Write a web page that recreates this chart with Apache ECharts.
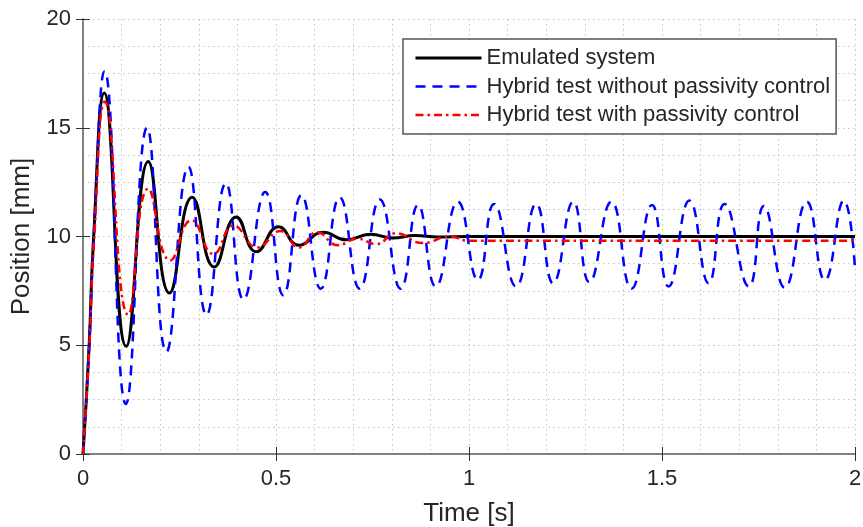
<!DOCTYPE html>
<html>
<head>
<meta charset="utf-8">
<script src="https://cdn.jsdelivr.net/npm/echarts/dist/echarts.min.js"></script>
<style>
  html, body { margin: 0; padding: 0; background: #fff; }
  #chart { width: 863px; height: 527px; }
</style>
</head>
<body>
<div id="chart"></div>
<script>
// values: time [s] and position [mm]
const emuT = [0, 0.016, 0.027, 0.055, 0.112, 0.169, 0.224, 0.283, 0.340, 0.397, 0.449, 0.507, 0.559, 0.623, 0.681, 0.745, 0.802, 0.86, 0.92, 1.0, 1.2, 1.6, 2.0];
const emuY = [0, 5.0, 9.8, 16.6, 4.95, 13.45, 7.4, 11.8, 8.6, 10.9, 9.3, 10.45, 9.6, 10.2, 9.85, 10.1, 9.93, 10.05, 9.98, 10.0, 10.0, 10.0, 10.0];

const noPcT = [0, 0.016, 0.028, 0.056, 0.111, 0.166, 0.216, 0.273, 0.320, 0.37, 0.416, 0.472, 0.519, 0.566, 0.616, 0.665, 0.717,
  0.769, 0.823, 0.868, 0.914, 0.971, 1.023, 1.065, 1.122, 1.174, 1.218, 1.27, 1.312, 1.369, 1.421, 1.474, 1.517,
  1.571, 1.621, 1.662, 1.725, 1.764, 1.818, 1.875, 1.922, 1.971, 2.0];
const noPcY = [0, 5.0, 10.0, 17.6, 2.3, 15.0, 4.7, 13.2, 6.4, 12.45, 7.1, 12.05, 7.3, 11.9, 7.6, 11.8, 7.6,
  11.7, 7.6, 11.45, 7.7, 11.6, 8.0, 11.5, 7.7, 11.5, 7.85, 11.6, 7.9, 11.6, 7.6, 11.45, 7.7,
  11.65, 7.85, 11.5, 7.7, 11.4, 7.65, 11.6, 8.0, 11.65, 8.55];

const pcT = [0, 0.016, 0.028, 0.057, 0.117, 0.169, 0.226, 0.281, 0.338, 0.39, 0.452, 0.511, 0.56, 0.607, 0.66, 0.71, 0.76, 0.81, 0.88, 0.95, 1.0, 1.2, 2.0];
const pcY = [0, 4.8, 9.6, 16.2, 6.4, 12.2, 8.9, 10.75, 9.2, 10.5, 9.5, 10.25, 9.5, 10.2, 9.6, 9.9, 9.65, 10.15, 9.7, 10.0, 9.8, 9.8, 9.8];

const seriesNames = ['Emulated system', 'Hybrid test without passivity control', 'Hybrid test with passivity control'];
const xTicks = [0, 2, 0.5];   // min, max, step
const yTicks = [0, 20, 5];

const pairs = (t, y) => t.map((v, i) => [v, y[i]]);

const font = '"Liberation Sans", Arial, Helvetica, sans-serif';
const textCol = '#262626';
const axisCol = '#7a7a7a';
const gridLine = { show: true, lineStyle: { color: '#c4c4c4', width: 1, type: [1.5, 3.5] } };

const chart = echarts.init(document.getElementById('chart'), null, { renderer: 'canvas' });

const option = {
  animation: false,
  backgroundColor: '#fff',
  grid: { left: 83, right: 8, top: 19, bottom: 73, containLabel: false, outerBoundsMode: 'none' },
  legend: {
    orient: 'vertical',
    left: 403,
    top: 39,
    padding: [7.5, 6, 7.5, 11],
    itemGap: 5.5,
    itemWidth: 66,
    itemHeight: 14,
    selectedMode: false,
    backgroundColor: '#fff',
    borderColor: '#555',
    borderWidth: 1.5,
    borderRadius: 0,
    itemStyle: { opacity: 0 },
    textStyle: { fontSize: 22, color: textCol, fontFamily: font, lineHeight: 23 },
    data: [
      { name: seriesNames[0], lineStyle: { width: 3 } },
      { name: seriesNames[1], lineStyle: { width: 2.5 } },
      { name: seriesNames[2], lineStyle: { width: 2.5 } }
    ]
  },
  xAxis: [
    {
      type: 'value', min: xTicks[0], max: xTicks[1], interval: xTicks[2],
      name: 'Time [s]', nameLocation: 'middle', nameGap: 47,
      nameTextStyle: { fontSize: 26, color: textCol, fontFamily: font },
      axisLine: { show: true, lineStyle: { color: axisCol, width: 1.5 } },
      axisTick: { show: true, inside: true, length: 7, lineStyle: { color: '#333', width: 1 } },
      axisLabel: { fontSize: 22, color: textCol, fontFamily: font, margin: 14,
        formatter: v => String(v) },
      splitLine: gridLine,
      minorTick: { show: false, splitNumber: 5 },
      minorSplitLine: gridLine
    },
    {
      type: 'value', position: 'top', min: xTicks[0], max: xTicks[1], interval: xTicks[2],
      axisLine: { show: true, lineStyle: { color: axisCol, width: 1.5 } },
      axisTick: { show: true, inside: true, length: 7, lineStyle: { color: '#333', width: 1 } },
      axisLabel: { show: false },
      splitLine: { show: false }
    }
  ],
  yAxis: [
    {
      type: 'value', min: yTicks[0], max: yTicks[1], interval: yTicks[2],
      name: 'Position [mm]', nameLocation: 'middle', nameGap: 48,
      nameTextStyle: { fontSize: 26, color: textCol, fontFamily: font },
      axisLine: { show: true, lineStyle: { color: axisCol, width: 1.5 } },
      axisTick: { show: true, inside: true, length: 7, lineStyle: { color: '#333', width: 1 } },
      axisLabel: { fontSize: 22, color: textCol, fontFamily: font, margin: 12 },
      splitLine: gridLine,
      minorTick: { show: false, splitNumber: 4 },
      minorSplitLine: gridLine
    },
    {
      type: 'value', position: 'right', min: yTicks[0], max: yTicks[1], interval: yTicks[2],
      axisLine: { show: true, lineStyle: { color: axisCol, width: 1.5 } },
      axisTick: { show: true, inside: true, length: 7, lineStyle: { color: '#333', width: 1 } },
      axisLabel: { show: false },
      splitLine: { show: false }
    }
  ],
  series: [
    {
      name: seriesNames[0], type: 'line', smooth: 0.5, symbol: 'none',
      lineStyle: { color: '#000', width: 3 }, itemStyle: { color: '#000' },
      data: pairs(emuT, emuY), z: 3
    },
    {
      name: seriesNames[1], type: 'line', smooth: 0.5, symbol: 'none',
      lineStyle: { color: '#0000ff', width: 2.5, type: [10, 7] }, itemStyle: { color: '#0000ff' },
      data: pairs(noPcT, noPcY), z: 4
    },
    {
      name: seriesNames[2], type: 'line', smooth: 0.5, symbol: 'none',
      lineStyle: { color: '#ff0000', width: 2.5, type: [8, 4, 2.5, 4] }, itemStyle: { color: '#ff0000' },
      data: pairs(pcT, pcY), z: 5
    }
  ]
};

chart.setOption(option);
</script>
</body>
</html>
